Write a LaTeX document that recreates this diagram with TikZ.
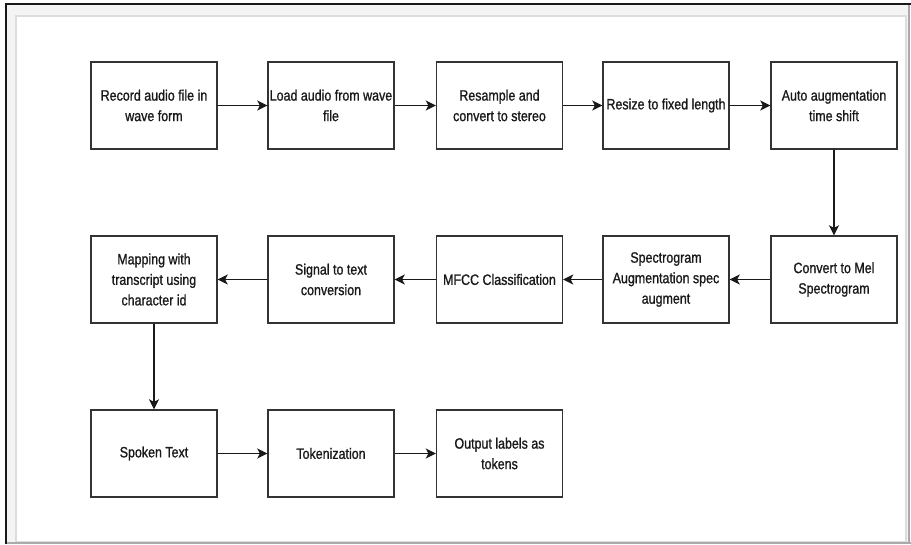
\documentclass[tikz,border=0pt]{standalone}
\usepackage{fontspec}
\setmainfont{Liberation Sans}[FakeStretch=0.83,FakeBold=1]
\usetikzlibrary{arrows.meta}
\definecolor{bandgray}{HTML}{F4F4F4}
\definecolor{innerline}{HTML}{DDDDDD}
\definecolor{outgray}{HTML}{AAAAAA}
\definecolor{boxline}{HTML}{333333}
\tikzset{
  stepbox/.style={draw=boxline, line width=1.4pt, fill=white, minimum width=126pt, minimum height=87pt,
    inner sep=0pt, align=center, font=\fontsize{15}{20.5}\selectfont, text=black!90},
  flow/.style={draw=black!90, line width=1.4pt, -{Stealth[length=10pt,width=10pt,inset=2.5pt]}}
}
\begin{document}
\begin{tikzpicture}[x=1pt,y=-1pt]
\useasboundingbox (0,0) rectangle (911,544);
\fill[white] (0,0) rectangle (911,544);
\fill[bandgray] (6,4) rectangle (908,543);
\draw[innerline, line width=1.5pt, fill=white] (16,16) rectangle (906,542);
\draw[outgray, line width=2pt] (908.5,4) -- (908.5,543) (6,543) -- (911,543);
\draw[black!90, line width=2.2pt] (6,544) -- (6,4) -- (911,4);

\node[stepbox] (b1) at (154,105.5) {Record audio file in\\wave form};
\node[stepbox] (b2) at (331,105.5) {Load audio from wave\\file};
\node[stepbox] (b3) at (499.5,105.5) {Resample and\\convert to stereo};
\node[stepbox] (b4) at (666,105.5) {Resize to fixed length};
\node[stepbox] (b5) at (834,105.5) {Auto augmentation\\time shift};

\node[stepbox] (b6) at (834,279.5) {Convert to Mel\\Spectrogram};
\node[stepbox] (b7) at (666,279.5) {Spectrogram\\Augmentation spec\\augment};
\node[stepbox] (b8) at (499.5,279.5) {MFCC Classification};
\node[stepbox] (b9) at (331,279.5) {Signal to text\\conversion};
\node[stepbox] (b10) at (154,279.5) {Mapping with\\transcript using\\character id};

\node[stepbox] (b11) at (154,453.5) {Spoken Text};
\node[stepbox] (b12) at (331,453.5) {Tokenization};
\node[stepbox] (b13) at (499.5,453.5) {Output labels as\\tokens};

\draw[flow] (b1) -- (b2);
\draw[flow] (b2) -- (b3);
\draw[flow] (b3) -- (b4);
\draw[flow] (b4) -- (b5);
\draw[flow] (b5) -- (b6);
\draw[flow] (b6) -- (b7);
\draw[flow] (b7) -- (b8);
\draw[flow] (b8) -- (b9);
\draw[flow] (b9) -- (b10);
\draw[flow] (b10) -- (b11);
\draw[flow] (b11) -- (b12);
\draw[flow] (b12) -- (b13);
\end{tikzpicture}
\end{document}
